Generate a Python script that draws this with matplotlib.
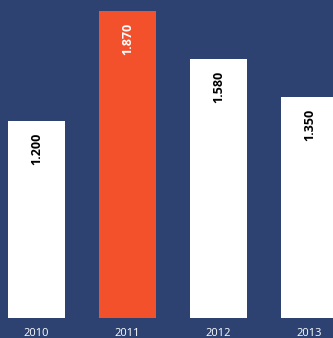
import matplotlib.pyplot as plt

years = ['2010', '2011', '2012', '2013']
values = [1200, 1870, 1580, 1350]
labels = ['1.200', '1.870', '1.580', '1.350']
highlight = '2011'

bg = '#2d4270'
red = '#f2512b'

fig = plt.figure(figsize=(3.33, 3.38), dpi=100)
fig.patch.set_facecolor(bg)
ax = fig.add_axes([0, 20 / 338, 1, 318 / 338])
ax.set_facecolor(bg)

x = range(len(years))
colors = [red if y == highlight else 'white' for y in years]
ax.bar(x, values, width=0.63, color=colors)

for i, (v, lab) in enumerate(zip(values, labels)):
    tc = 'white' if years[i] == highlight else 'black'
    ax.annotate(lab, xy=(i, v), xytext=(0, -8.5), textcoords='offset points',
                rotation=90, ha='center', va='top', fontsize=9,
                fontweight='bold', color=tc, family='Open Sans')

ax.set_xlim(-0.401, 3.258)
ax.set_ylim(0, 1939)
ax.set_xticks(list(x))
ax.set_xticklabels(years, color='white', fontsize=8, family='Open Sans')
ax.tick_params(axis='x', length=0, pad=7)
ax.set_yticks([])
for s in ax.spines.values():
    s.set_visible(False)

fig.savefig('out.png', dpi=100, facecolor=bg)
